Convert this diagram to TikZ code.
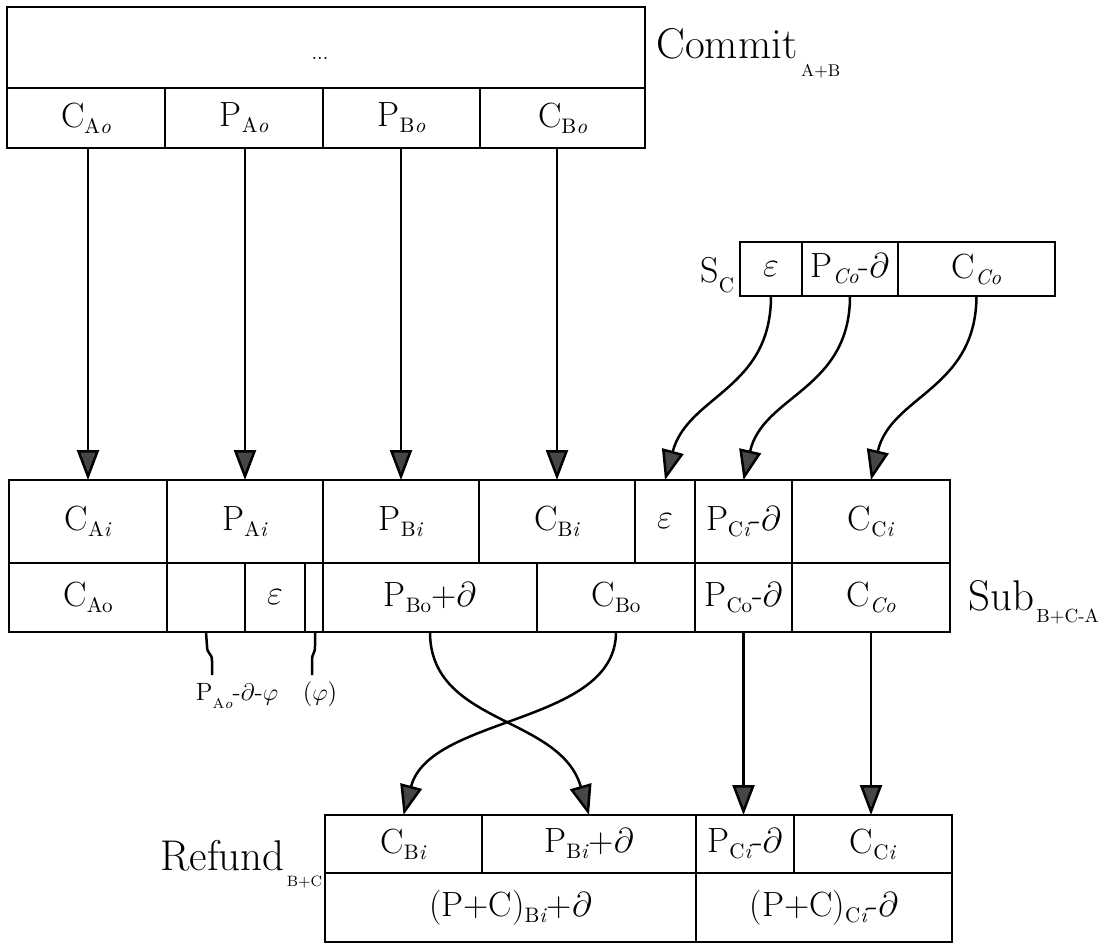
\documentclass[tikz,border=0pt]{standalone}
\usepackage{fontspec}
\usetikzlibrary{arrows.meta}
\newcommand\sbx[2][10.5]{\raisebox{-3pt}{\fontsize{#1}{#1}\selectfont #2}}
\newcommand\cell[6]{\node[cellbox, minimum width={(#4-#2)*0.5pt}, minimum height={(#5-#3)*0.5pt}] (#1) at ({(#2+#4)/2},{(#3+#5)/2}) {#6};}
\tikzset{
  cellbox/.style={draw, line width=1.25pt, inner sep=0pt, outer sep=0pt, font=\fontsize{17.5}{19}\selectfont},
  arr/.style={line width=1.25pt, -{Triangle[width=11pt,length=15pt,fill=gray!55!black]}},
  lead/.style={line width=1.25pt},
  biglbl/.style={font=\fontsize{21.5}{23}\selectfont, inner sep=0pt, anchor=base west},
  anno/.style={font=\fontsize{12.5}{13}\selectfont, inner sep=0pt, anchor=base}
}
\begin{document}
\begin{tikzpicture}[x=0.5pt,y=-0.5pt]
\useasboundingbox (0,0) rectangle (1104,949);
% Commit box
\cell{tdots}{7}{7}{645}{88}{}
\node[font=\fontsize{10}{10}\selectfont, inner sep=0pt] (dots) at (320,58) {...};
\cell{tCA}{7}{88}{165}{148}{C\sbx{A\textit{o}}}
\cell{tPA}{165}{88}{323}{148}{P\sbx{A\textit{o}}}
\cell{tPB}{323}{88}{480}{148}{P\sbx{B\textit{o}}}
\cell{tCB}{480}{88}{645}{148}{C\sbx{B\textit{o}}}
\node[biglbl] (commit) at (656,58) {Commit\kern2pt\raisebox{-9pt}{\fontsize{8.5}{8.5}\selectfont A+B}};
% S_C box
\cell{cE}{740}{242}{802}{296}{$\varepsilon$}
\cell{cP}{802}{242}{898}{296}{P\sbx{\textit{Co}}-$\partial$}
\cell{cC}{898}{242}{1055}{296}{C\sbx{\textit{Co}}}
\node[font=\fontsize{18}{19}\selectfont, inner sep=0pt, anchor=base west] (sc) at (700,282) {S\raisebox{-5pt}{\fontsize{10.5}{10.5}\selectfont C}};
% Sub box top row
\cell{sCA}{9}{480}{167}{563}{C\sbx{A\textit{i}}}
\cell{sPA}{167}{480}{323}{563}{P\sbx{A\textit{i}}}
\cell{sPB}{323}{480}{479}{563}{P\sbx{B\textit{i}}}
\cell{sCB}{479}{480}{635}{563}{C\sbx{B\textit{i}}}
\cell{sE}{635}{480}{695}{563}{$\varepsilon$}
\cell{sPC}{695}{480}{792}{563}{P\sbx{C\textit{i}}-$\partial$}
\cell{sCC}{792}{480}{950}{563}{C\sbx{C\textit{i}}}
% Sub box bottom row
\cell{bCA}{9}{563}{167}{632}{C\sbx{Ao}}
\cell{bEmp}{167}{563}{245}{632}{}
\cell{bE}{245}{563}{305}{632}{$\varepsilon$}
\cell{bNar}{305}{563}{323}{632}{}
\cell{bPB}{323}{563}{537}{632}{P\sbx{Bo}+$\partial$}
\cell{bCB}{537}{563}{695}{632}{C\sbx{Bo}}
\cell{bPC}{695}{563}{792}{632}{P\sbx{Co}-$\partial$}
\cell{bCC}{792}{563}{950}{632}{C\sbx{\textit{Co}}}
\node[biglbl] (sub) at (968,610) {Sub\kern1pt\raisebox{-6pt}{\fontsize{9.5}{9.5}\selectfont B+C-A}};
% Refund box
\cell{rCB}{325}{815}{482}{873}{C\sbx{B\textit{i}}}
\cell{rPB}{482}{815}{696}{873}{P\sbx{B\textit{i}}+$\partial$}
\cell{rPC}{696}{815}{794}{873}{P\sbx{C\textit{i}}-$\partial$}
\cell{rCC}{794}{815}{952}{873}{C\sbx{C\textit{i}}}
\cell{rL}{325}{873}{696}{942}{(P+C)\sbx{B\textit{i}}+$\partial$}
\cell{rR}{696}{873}{952}{942}{(P+C)\sbx{C\textit{i}}-$\partial$}
\node[biglbl] (refund) at (160,870) {Refund\kern1pt\raisebox{-8pt}{\fontsize{7.5}{7.5}\selectfont B+C}};
% annotations
\coordinate (la1) at (212,675);
\coordinate (lb1) at (312,675);
\draw[lead] (bEmp.south) -- (207,646) .. controls (207,655) and (212,652) .. (212,661) -- (la1);
\draw[lead] (bNar.south -| 315,0) -- (315,646) .. controls (315,655) and (312,652) .. (312,661) -- (lb1);
\node[anno] (la) at (237,700) {P\raisebox{-4pt}{\fontsize{7}{7}\selectfont A\textit{o}}-$\partial$-$\varphi$};
\node[anno] (lb) at (320,700) {($\varphi$)};
% arrows commit -> sub
\draw[arr] (tCA.south -| sCA.north) -- (sCA.north);
\draw[arr] (tPA.south -| sPA.north) -- (sPA.north);
\draw[arr] (tPB.south -| sPB.north) -- (sPB.north);
\draw[arr] (tCB.south -| sCB.north) -- (sCB.north);
% arrows S_C -> sub
\draw[arr] (cE.south) .. controls (771,390) and (688,395) .. (sE.north);
\draw[arr] (cP.south) .. controls (850,390) and (763,395) .. (sPC.north);
\draw[arr] (cC.south) .. controls (976,390) and (891,395) .. (sCC.north);
% arrows sub -> refund
\draw[arr] (bPB.south) .. controls (430,725) and (560,715) .. (rPB.north);
\draw[arr] (bCB.south) .. controls (616,725) and (430,715) .. (rCB.north);
\draw[arr] (bPC.south) -- (bPC.south |- rPC.north);
\draw[arr] (bCC.south) -- (bCC.south |- rCC.north);
\end{tikzpicture}
\end{document}
